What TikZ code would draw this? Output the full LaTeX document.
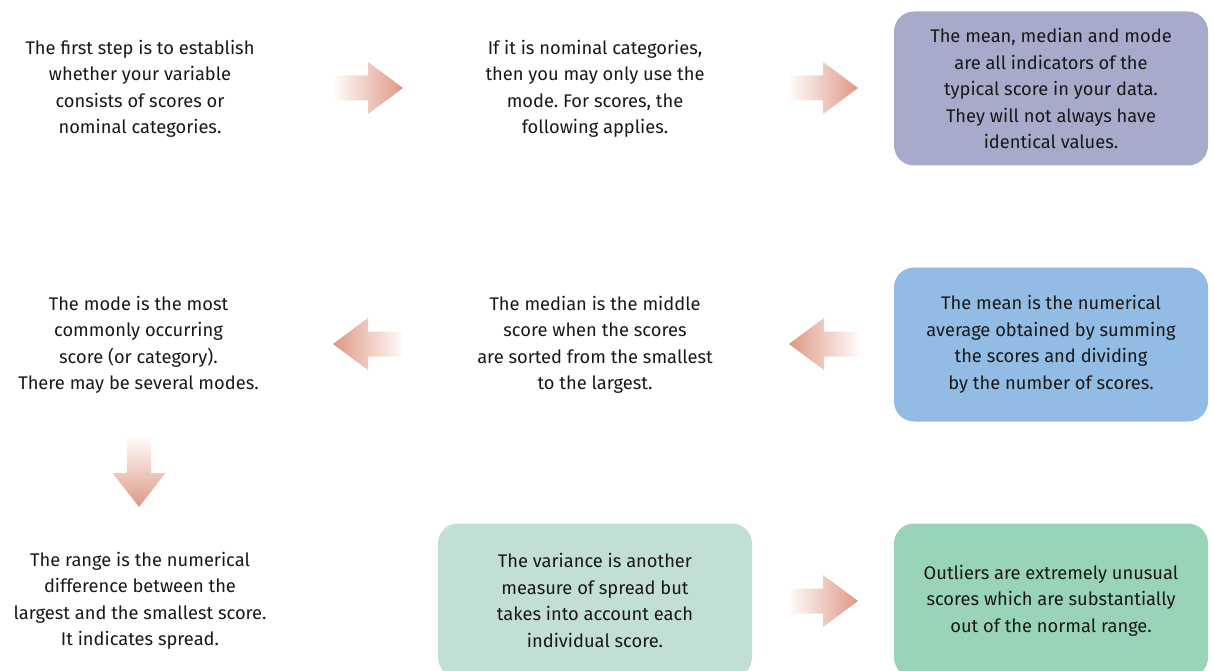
\documentclass[tikz,border=0pt]{standalone}
\usepackage{fontspec}
\setmainfont{Fira Sans}
\frenchspacing
\definecolor{inkcol}{RGB}{24,24,24}
\definecolor{meanbox}{RGB}{168,170,203}
\definecolor{avgbox}{RGB}{146,188,228}
\definecolor{varbox}{RGB}{194,223,213}
\definecolor{outbox}{RGB}{153,212,185}
\definecolor{arrowhue}{RGB}{222,152,133}
\definecolor{arrowtail}{RGB}{255,250,248}
\tikzset{
  txt/.style={align=center, text=inkcol, font=\fontsize{18.3}{26.5}\selectfont},
  panel/.style={txt, rounded corners=20pt, minimum width=314pt, minimum height=154pt, inner sep=0pt},
  % block arrows, one per direction, drawn from their tail
  pics/rightblock/.style={code={
    \shade[left color=arrowtail, right color=arrowhue]
      (0,-12.5) -- (33,-12.5) -- (33,-26) -- (68,0) -- (33,26) -- (33,12.5) -- (0,12.5) -- cycle;}},
  pics/leftblock/.style={code={
    \shade[left color=arrowhue, right color=arrowtail]
      (0,-12.5) -- (-34,-12.5) -- (-34,-26) -- (-69,0) -- (-34,26) -- (-34,12.5) -- (0,12.5) -- cycle;}},
  pics/downblock/.style={code={
    \shade[top color=arrowtail, bottom color=arrowhue]
      (-12,0) -- (-12,35) -- (-26.5,35) -- (0,69) -- (26.5,35) -- (12,35) -- (12,0) -- cycle;}},
}
\begin{document}
\begin{tikzpicture}[x=1pt, y=-1pt]
\useasboundingbox (0,0) rectangle (1214,671);

% first row
\node[txt] (first) at (140,89) {The first step is to establish\\whether your variable\\consists of scores or\\nominal categories.};
\node[txt] (nominal) at (595,89) {If it is nominal categories,\\then you may only use the\\mode. For scores, the\\following applies.};
\node[panel, fill=meanbox] (mmm) at (1051,88.5) {The mean, median and mode\\are all indicators of the\\typical score in your data.\\They will not always have\\identical values.};

% second row
\node[txt] (mode) at (138.5,345) {The mode is the most\\commonly occurring\\score (or category).\\There may be several modes.};
\node[txt] (median) at (595,345) {The median is the middle\\score when the scores\\are sorted from the smallest\\to the largest.};
\node[panel, fill=avgbox] (mean) at (1051,344.5) {The mean is the numerical\\average obtained by summing\\the scores and dividing\\by the number of scores.};

% third row
\node[txt] (range) at (140,601) {The range is the numerical\\difference between the\\largest and the smallest score.\\It indicates spread.};
\node[panel, fill=varbox] (variance) at (595,600.5) {The variance is another\\measure of spread but\\takes into account each\\individual score.};
\node[panel, fill=outbox] (outliers) at (1051,600.5) {Outliers are extremely unusual\\scores which are substantially\\out of the normal range.};

% block arrows between the steps
\pic at (335,88) {rightblock};
\pic at (790,88) {rightblock};
\pic at (402,344) {leftblock};
\pic at (858,344) {leftblock};
\pic at (139,438) {downblock};
\pic at (790,601) {rightblock};
\end{tikzpicture}
\end{document}
